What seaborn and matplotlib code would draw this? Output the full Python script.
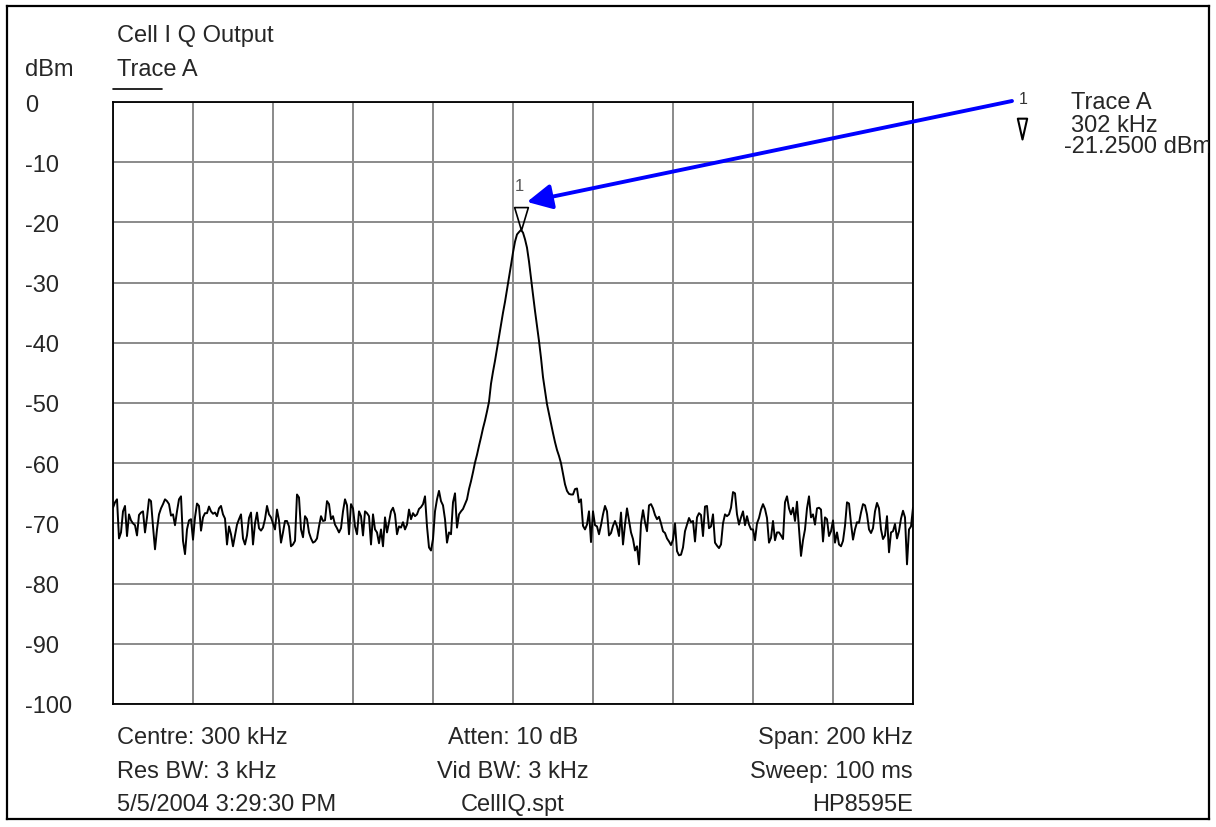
import matplotlib
matplotlib.use("Agg")
import matplotlib.pyplot as plt
from matplotlib.path import Path
from matplotlib.transforms import offset_copy
import numpy as np
import pandas as pd
import seaborn as sns

# sweep settings (HP8595E, 401 points)
start_khz = 200
stop_khz = 400
n_points = 401

# trace A, dBm
trace_dbm = [
    -67.4, -66.5, -66.0, -72.5, -71.5, -68.0, -67.1, -72.1, -68.5, -69.5,
    -70.0, -70.3, -72.0, -68.6, -68.2, -68.0, -71.5, -69.0, -66.0, -66.3,
    -70.5, -74.3, -71.0, -68.5, -67.5, -66.8, -66.0, -66.3, -66.8, -68.7,
    -68.5, -70.3, -68.0, -66.0, -65.5, -72.9, -75.1, -71.0, -69.5, -69.3,
    -72.7, -69.0, -66.7, -67.1, -71.2, -69.0, -68.3, -68.3, -67.2, -68.0,
    -68.4, -68.2, -68.8, -67.5, -67.1, -68.5, -69.2, -73.5, -70.5, -71.8,
    -73.8, -72.0, -70.2, -69.3, -68.5, -72.5, -73.5, -72.0, -69.1, -68.2,
    -73.5, -70.0, -68.2, -70.8, -71.2, -70.7, -69.3, -67.1, -68.5, -69.0,
    -70.0, -71.0, -67.7, -69.5, -73.2, -71.5, -69.6, -69.6, -70.5, -73.8,
    -73.5, -72.9, -65.2, -65.7, -71.0, -72.3, -68.8, -69.3, -71.5, -72.5,
    -73.2, -73.0, -72.5, -70.5, -68.8, -69.6, -69.5, -66.3, -66.8, -69.3,
    -68.8, -70.2, -70.8, -71.5, -70.8, -68.0, -66.0, -67.0, -71.8, -66.8,
    -67.5, -70.5, -71.8, -68.0, -68.8, -72.0, -68.0, -68.3, -68.8, -73.5,
    -68.5, -71.0, -71.5, -73.3, -71.0, -73.8, -69.0, -71.5, -69.8, -68.0,
    -67.4, -68.5, -71.8, -70.5, -70.7, -69.8, -71.0, -70.2, -67.7, -69.3,
    -68.3, -68.8, -68.5, -67.6, -67.3, -66.8, -65.5, -70.5, -74.0, -74.5,
    -72.6, -68.0, -66.0, -64.6, -66.3, -67.0, -69.3, -73.2, -71.5, -71.8,
    -66.5, -65.0, -70.7, -68.5, -68.0, -67.6, -66.8, -66.0, -64.3, -63.0,
    -61.5, -59.9, -58.6, -57.1, -55.7, -54.2, -52.9, -51.4, -49.8, -46.8,
    -44.8, -43.0, -41.0, -39.1, -37.1, -35.0, -33.2, -31.2, -29.2, -27.1,
    -25.0, -23.2, -22.0, -21.6, -21.25, -21.7, -22.8, -24.2, -26.5, -29.3,
    -32.0, -34.7, -37.2, -39.7, -42.5, -45.7, -48.0, -50.2, -51.8, -53.4,
    -55.0, -56.5, -57.8, -58.8, -60.0, -61.8, -63.5, -64.6, -65.1, -65.2,
    -65.2, -64.3, -64.2, -66.5, -66.0, -70.4, -71.0, -70.2, -68.0, -73.1,
    -68.0, -70.3, -70.5, -71.8, -70.3, -68.5, -67.1, -68.0, -72.0, -71.6,
    -70.4, -69.6, -70.5, -72.1, -68.2, -73.5, -70.2, -67.5, -69.5, -71.5,
    -72.6, -74.5, -73.8, -76.8, -70.0, -67.8, -69.8, -71.3, -67.0, -66.8,
    -67.5, -68.6, -69.3, -68.9, -70.0, -71.3, -71.6, -72.5, -73.0, -73.6,
    -72.7, -70.0, -74.6, -75.3, -75.2, -74.0, -71.3, -70.2, -69.1, -69.8,
    -69.6, -73.0, -69.0, -68.3, -68.6, -72.1, -67.2, -67.1, -70.8, -70.5,
    -68.5, -73.2, -73.7, -74.1, -73.5, -70.0, -68.5, -68.8, -68.5, -67.4,
    -64.8, -65.0, -68.5, -70.2, -69.0, -68.0, -70.3, -68.8, -70.2, -71.0,
    -71.0, -72.8, -70.0, -69.1, -67.7, -66.8, -67.6, -69.1, -73.2, -72.4,
    -69.6, -72.8, -71.5, -71.5, -72.0, -72.6, -66.5, -65.5, -67.5, -68.5,
    -67.4, -69.6, -66.4, -71.0, -75.4, -72.8, -71.0, -67.5, -65.5, -69.0,
    -68.5, -70.2, -67.5, -67.4, -67.7, -73.0, -69.0, -69.3, -72.1, -71.3,
    -69.5, -73.2, -71.5, -73.5, -73.8, -72.9, -70.4, -66.5, -66.7, -70.0,
    -72.7, -71.0, -69.8, -69.9, -68.2, -66.8, -67.0, -68.5, -71.0, -71.6,
    -70.8, -68.0, -66.6, -67.5, -71.0, -72.6, -72.0, -68.8, -74.8, -71.5,
    -71.3, -70.1, -72.5, -71.3, -69.2, -67.9, -69.0, -76.8, -71.0, -70.5,
    -67.4,
]

# marker 1
marker_khz = 302
marker_dbm = -21.25

y_ticks = list(range(0, -101, -10))
x_grid = list(range(200, 401, 20))

info_left = ["Centre: 300 kHz", "Res BW: 3 kHz", "5/5/2004 3:29:30 PM"]
info_mid = ["Atten: 10 dB", "Vid BW: 3 kHz", "CellIQ.spt"]
info_right = ["Span: 200 kHz", "Sweep: 100 ms", "HP8595E"]

sns.set_style("white")
plt.rcParams["font.family"] = ["Liberation Sans", "DejaVu Sans"]
plt.rcParams["axes.unicode_minus"] = False

FS = 17
W, H = 1216, 828

freq = np.linspace(start_khz, stop_khz, n_points)
df = pd.DataFrame({"freq": freq, "dbm": trace_dbm})

fig = plt.figure(figsize=(W / 100, H / 100), dpi=100)

# -------- main screen grid --------
ax = fig.add_axes([113 / W, 1 - 705 / H, 800 / W, 602 / H])
sns.lineplot(data=df, x="freq", y="dbm", color="black", lw=1.4, ax=ax)
ax.set_xlim(start_khz, stop_khz)
ax.set_ylim(-100, 0)
ax.set_xticks(x_grid)
ax.set_xticklabels([])
ax.set_yticks(y_ticks, [str(v) for v in y_ticks], ha="left")
ax.tick_params(axis="both", length=0)
ax.tick_params(axis="y", labelsize=FS, pad=63)
ax.grid(True, color="#8a8a8a", lw=1.4)
ax.set_axisbelow(True)
ax.set_xlabel("")
ax.set_ylabel("")
for s in ax.spines.values():
    s.set_visible(True)
    s.set_color("black")
    s.set_linewidth(1.3)

# marker triangle, tip sits on the peak
tri = Path([(0, 0), (-0.6, 2), (0.6, 2), (0, 0)],
           [Path.MOVETO, Path.LINETO, Path.LINETO, Path.CLOSEPOLY])
ax.plot([marker_khz], [marker_dbm], marker=tri, ms=33, mfc="none",
        mec="black", mew=1.2, ls="none", zorder=5)
ax.annotate("1", (marker_khz, marker_dbm), xytext=(-1, 32),
            textcoords="offset points", ha="center", va="center",
            fontsize=12, color="#555555")

# blue arrow from the marker readout to the marker
ax.annotate("", xy=(marker_khz, marker_dbm),
            xycoords=offset_copy(ax.transData, fig=fig, x=6, y=28, units="dots"),
            xytext=(1012, H - 102), textcoords="figure pixels",
            arrowprops=dict(arrowstyle="-|>,head_length=0.75,head_width=0.38",
                            color="blue", lw=2.8, mutation_scale=20,
                            shrinkA=0, shrinkB=0),
            annotation_clip=False)

# -------- outer frame, coordinates in image pixels --------
frame = fig.add_axes([7 / W, 1 - 820 / H, 1202 / W, 813 / H], facecolor="none")
frame.set_xlim(7, 1209)
frame.set_ylim(820, 7)
frame.set_xticks([])
frame.set_yticks([])
for s in frame.spines.values():
    s.set_visible(True)
    s.set_color("black")
    s.set_linewidth(1.6)

frame.text(25, 70, "dBm", va="center", fontsize=FS)
frame.text(117, 36, "Cell I Q Output", va="center", fontsize=FS)
frame.text(117, 70, "Trace A", va="center", fontsize=FS)
frame.plot([113, 162], [90, 90], color="black", lw=1.2)

# marker readout
tri_small = Path([(0, 0), (-0.45, 2), (0.45, 2), (0, 0)],
                 [Path.MOVETO, Path.LINETO, Path.LINETO, Path.CLOSEPOLY])
frame.text(1023, 100, "1", ha="center", va="center", fontsize=11.5, color="#333333")
frame.plot([1022], [140], marker=tri_small, ms=30, mfc="none", mec="black",
           mew=1.5, ls="none")
frame.text(1071, 103, "Trace A", va="center", fontsize=FS)
frame.text(1071, 126, f"{marker_khz} kHz", va="center", fontsize=FS)
frame.text(1064, 147, f"{marker_dbm:.4f} dBm", va="center", fontsize=FS,
           clip_on=True)

# instrument settings under the screen
rows_y = [738, 772, 805]
for y, a, b, c in zip(rows_y, info_left, info_mid, info_right):
    frame.text(117, y, a, ha="left", va="center", fontsize=FS)
    frame.text(513, y, b, ha="center", va="center", fontsize=FS)
    frame.text(913, y, c, ha="right", va="center", fontsize=FS)

fig.savefig("out.png", dpi=100)
